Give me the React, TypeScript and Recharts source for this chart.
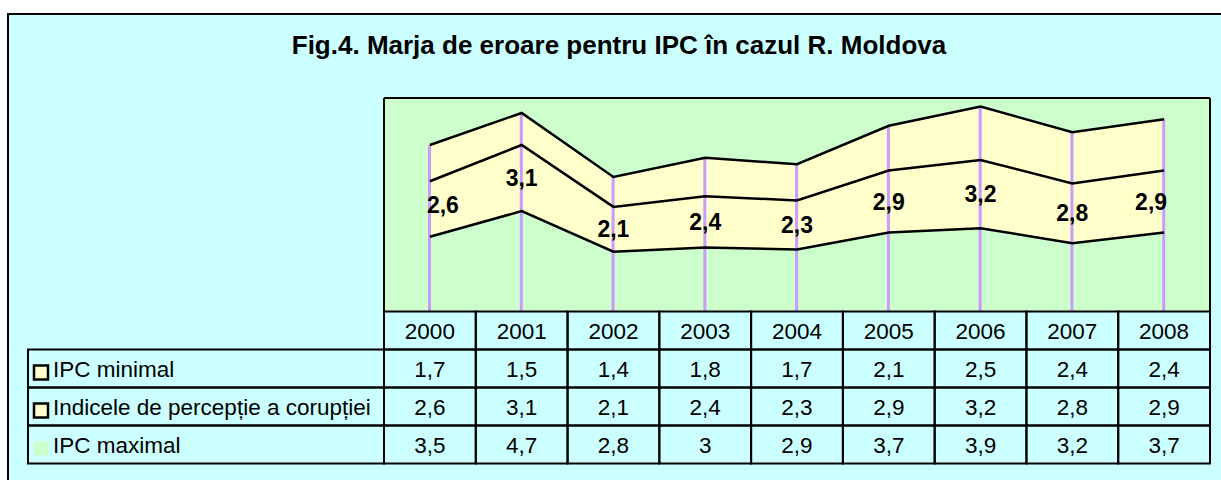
import React from 'react';
import {
  ComposedChart,
  Area,
  Bar,
  Line,
  XAxis,
  YAxis,
  CartesianGrid,
  LabelList,
} from 'recharts';

// ---- data ----
const years = ['2000', '2001', '2002', '2003', '2004', '2005', '2006', '2007', '2008'];
const ipcMin = [1.7, 1.5, 1.4, 1.8, 1.7, 2.1, 2.5, 2.4, 2.4];
const ipcIdx = [2.6, 3.1, 2.1, 2.4, 2.3, 2.9, 3.2, 2.8, 2.9];
const ipcMax = [3.5, 4.7, 2.8, 3, 2.9, 3.7, 3.9, 3.2, 3.7];
const seriesNames = ['IPC minimal', 'Indicele de percepție a corupției', 'IPC maximal'];
const title = 'Fig.4. Marja de eroare pentru IPC în cazul R. Moldova';

const data = years.map((year, i) => ({
  year,
  ipcMin: ipcMin[i],
  ipcIdx: ipcIdx[i],
  ipcMax: ipcMax[i],
}));

// ---- layout / style ----
const W = 1221;
const H = 480;
const PLOT_LEFT = 384;
const PLOT_RIGHT = 1210;
const PLOT_TOP = 98;
const PLOT_BOTTOM = 311.5;
const ROW_H = 38;
const AXIS_H = 4 * ROW_H + 4;
const COL_W = (PLOT_RIGHT - PLOT_LEFT) / years.length;
const LEGEND_LEFT = 28;
const FONT = '"Liberation Sans", Arial, Helvetica, sans-serif';
const CYAN = '#ccffff';
const GREEN = '#ccffcc';
const YELLOW = '#ffffcc';
const PURPLE = '#cc99ff';
const TEXT_SIZE = 22.5;

const fmt = (v: number) => String(v).replace('.', ',');

function TableTick(props: any) {
  const { x, y, payload } = props;
  const i = payload.index;
  const left = x - COL_W / 2;
  const values = [ipcMin[i], ipcIdx[i], ipcMax[i]];
  const keyFill = [YELLOW, YELLOW, GREEN];
  const keyStroke = ['#000', '#000', 'none'];
  return (
    <g fontFamily={FONT} fontSize={TEXT_SIZE} fill="#000">
      {i === 0 &&
        seriesNames.map((name, r) => {
          const top = y + ROW_H * (r + 1);
          return (
            <g key={name}>
              <rect
                x={LEGEND_LEFT}
                y={top}
                width={left - LEGEND_LEFT}
                height={ROW_H}
                fill="none"
                stroke="#000"
                strokeWidth={2}
              />
              <rect
                x={34}
                y={top + 16}
                width={14}
                height={14}
                fill={keyFill[r]}
                stroke={keyStroke[r]}
                strokeWidth={2.5}
              />
              <text x={53} y={top + ROW_H / 2 + 8.5} textAnchor="start" fill="#000">
                {name}
              </text>
            </g>
          );
        })}
      <rect x={left} y={y} width={COL_W} height={ROW_H} fill="none" stroke="#000" strokeWidth={2} />
      <text x={x} y={y + ROW_H / 2 + 8} textAnchor="middle" fill="#000">
        {payload.value}
      </text>
      {values.map((v, r) => {
        const top = y + ROW_H * (r + 1);
        return (
          <g key={r}>
            <rect x={left} y={top} width={COL_W} height={ROW_H} fill="none" stroke="#000" strokeWidth={2} />
            <text x={x} y={top + ROW_H / 2 + 8} textAnchor="middle" fill="#000">
              {fmt(v)}
            </text>
          </g>
        );
      })}
    </g>
  );
}

function IdxLabel(props: any) {
  const { x, y, index } = props;
  const dx = index === 0 ? 13 : index === years.length - 1 ? -13 : 0;
  const dy = index === 0 ? 4 : 8;
  return (
    <text
      x={x + dx}
      y={y}
      dy={dy}
      textAnchor="middle"
      fontFamily={FONT}
      fontSize={23}
      fontWeight="bold"
      fill="#000"
    >
      {fmt(ipcIdx[index])}
    </text>
  );
}

const lineProps = {
  type: 'linear' as const,
  stroke: '#000',
  strokeWidth: 2.5,
  dot: false,
  activeDot: false,
  isAnimationActive: false,
};

export default function App() {
  return (
    <div
      style={{
        position: 'absolute',
        left: 0,
        top: 0,
        width: W,
        height: H,
        overflow: 'hidden',
        background: '#fff',
      }}
    >
      <div
        style={{
          position: 'absolute',
          left: 7,
          top: 13,
          width: 1240,
          height: 500,
          border: '2px solid #000',
          background: CYAN,
        }}
      />
      <div
        style={{
          position: 'absolute',
          left: 0,
          top: 32,
          width: 1238,
          textAlign: 'center',
          fontFamily: FONT,
          fontWeight: 'bold',
          fontSize: 26,
          lineHeight: '26px',
          color: '#000',
          whiteSpace: 'nowrap',
        }}
      >
        {title}
      </div>
      <div style={{ position: 'absolute', left: 0, top: 0 }}>
        <ComposedChart
          width={W}
          height={H}
          data={data}
          margin={{ top: PLOT_TOP, right: W - PLOT_RIGHT, left: PLOT_LEFT, bottom: H - PLOT_BOTTOM - AXIS_H }}
        >
          <CartesianGrid
            fill={GREEN}
            stroke="#000"
            strokeWidth={2}
            horizontalCoordinatesGenerator={({ offset }: any) => [offset.top]}
            verticalCoordinatesGenerator={({ offset }: any) => [offset.left, offset.left + offset.width]}
          />
          <XAxis
            dataKey="year"
            axisLine={false}
            tickLine={false}
            tickSize={0}
            tickMargin={0}
            interval={0}
            height={AXIS_H}
            tick={<TableTick />}
          />
          <YAxis hide domain={[0, 10]} allowDataOverflow type="number" />
          <Area
            type="linear"
            dataKey="ipcMax"
            stackId="s"
            stroke="none"
            fill={GREEN}
            fillOpacity={1}
            dot={false}
            activeDot={false}
            isAnimationActive={false}
          />
          <Area
            type="linear"
            dataKey="ipcIdx"
            stackId="s"
            stroke="none"
            fill={YELLOW}
            fillOpacity={1}
            dot={false}
            activeDot={false}
            isAnimationActive={false}
          />
          <Area
            type="linear"
            dataKey="ipcMin"
            stackId="s"
            stroke="none"
            fill={YELLOW}
            fillOpacity={1}
            dot={false}
            activeDot={false}
            isAnimationActive={false}
          />
          <Line {...lineProps} dataKey={(d: any) => d.ipcMax} />
          <Line {...lineProps} dataKey={(d: any) => d.ipcMax + d.ipcIdx} />
          <Line {...lineProps} dataKey={(d: any) => d.ipcMax + d.ipcIdx + d.ipcMin} />
          <Bar
            dataKey={(d: any) => d.ipcMax + d.ipcIdx + d.ipcMin}
            barSize={3}
            fill={PURPLE}
            isAnimationActive={false}
          />
          <Line
            dataKey={(d: any) => d.ipcMax + d.ipcIdx / 2}
            stroke="none"
            dot={false}
            activeDot={false}
            isAnimationActive={false}
          >
            <LabelList content={<IdxLabel />} />
          </Line>
        </ComposedChart>
      </div>
    </div>
  );
}
